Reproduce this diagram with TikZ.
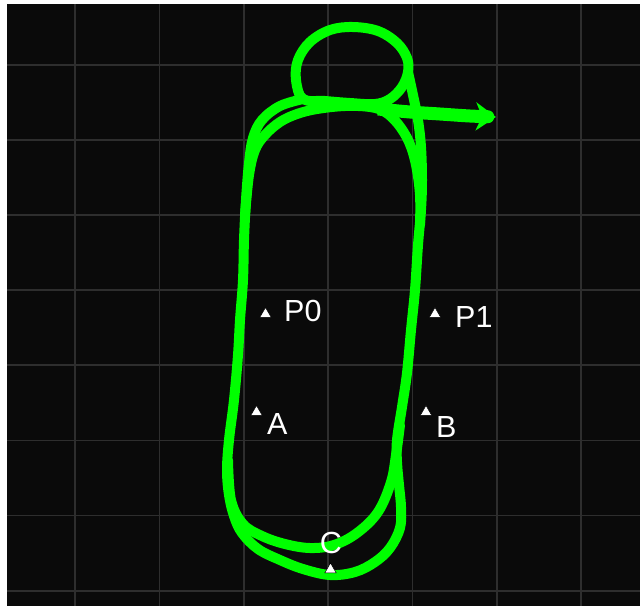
\documentclass[tikz,border=0pt]{standalone}
\usepackage{fontspec}
\setmainfont{Liberation Sans}
\usetikzlibrary{shapes.geometric,arrows.meta}
\definecolor{bgdark}{RGB}{10,10,10}
\definecolor{gridc}{RGB}{46,46,46}
\definecolor{trackg}{RGB}{0,255,0}
\begin{document}
\begin{tikzpicture}[x=1pt,y=-1pt,
  track/.style={draw=trackg, line width=10pt, line cap=round, line join=round},
  marker/.style={regular polygon, regular polygon sides=3, fill=white, draw=black, line width=0.5pt, inner sep=0pt, minimum size=13pt},
  lbl/.style={text=white, font=\fontsize{30.5}{30.5}\selectfont, inner sep=0pt},
  gridline/.style={draw=gridc, line width=1.6pt}]
\useasboundingbox (0,0) rectangle (640,606);
\fill[white] (0,0) rectangle (640,606);
\fill[bgdark] (7,4) rectangle (640,606);
\foreach \x in {75,159.3,243.7,328,412.3,496.7,581} \draw[gridline] (\x,4) -- (\x,606);
\foreach \y in {64.8,140,215,290.1,365.2,440.4,515.6,590.7} \draw[gridline] (7,\y) -- (640,\y);
% loop at top
\draw[track] plot[smooth cycle, tension=0.6] coordinates {(303,99) (296,80) (298,60) (310,42) (330,30) (353,27) (378,31) (397,43) (407,58) (408,72) (402,87) (390,99) (375,104) (350,103) (325,101)};
% outer lap
\draw[track] plot[smooth, tension=0.6] coordinates {(408,72) (413,95) (418,120) (421,147) (422,180) (421,210) (418,245) (415,290) (411,330) (407,373) (402,407) (397,440) (397,462) (399,485) (401,507) (400,528) (390,548) (375,562) (355,572) (330,575) (303,569) (280,560) (258,549) (242,533) (234,516) (229,495) (227,470) (229,440) (234,400) (238,355) (240,320) (243,280) (244,240) (246,200) (249,163) (253,138) (262,120) (280,106) (303,99)};
% inner lap top
\draw[track] plot[smooth, tension=0.6] coordinates {(245,215) (249,175) (255,150) (265,135) (280,122) (297,114) (317,109) (345,106) (370,107) (385,112) (398,124) (409,142) (416,165) (420,195) (420,225)};
% inner lap bottom
\draw[track] plot[smooth, tension=0.6] coordinates {(228,460) (231,500) (243,524) (262,536) (285,544) (310,548) (334,545) (357,533) (378,512) (391,482) (396,455) (400,425)};
% exit
\draw[track, line width=13pt, line cap=butt, -{Stealth[length=20pt, width=28pt, inset=6pt]}] plot[smooth, tension=0.6] coordinates {(378,109) (410,112) (440,114) (470,116) (496,117)};
% markers
\node[marker] (mP0) at (265.5,314) {};
\node[marker] (mA) at (256.5,412) {};
\node[marker] (mP1) at (435,314) {};
\node[marker] (mB) at (426,412) {};
\node[marker] (mC) at (330.5,569.5) {};
\node[lbl, anchor=base west] (tP0) at (284,321) {P0};
\node[lbl, anchor=base west] (tP1) at (455,327.5) {P1};
\node[lbl, anchor=base west] (tA) at (267,434.5) {A};
\node[lbl, anchor=base west] (tB) at (436,437) {B};
\node[lbl, anchor=base] (tC) at (331,553) {C};
\end{tikzpicture}
\end{document}
